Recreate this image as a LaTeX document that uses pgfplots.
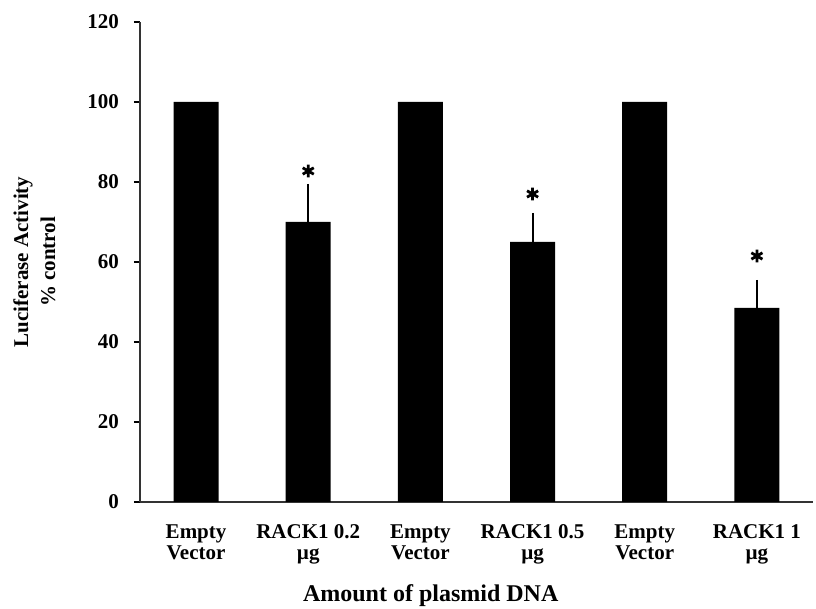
\documentclass[border=0pt]{standalone}
\usepackage{fontspec}
\setmainfont{Liberation Serif}
\usepackage{pgfplots}
\pgfplotsset{compat=1.18}
\begin{document}
\begin{tikzpicture}
\useasboundingbox (0,0) rectangle (408pt,304.5pt);
\begin{axis}[
  at={(70pt,53.5pt)}, anchor=south west,
  scale only axis, width=336.5pt, height=240pt,
  axis lines=left, axis line style={-, line width=0.6pt, black!80},
  xmin=-0.5, xmax=5.5, ymin=0, ymax=120,
  ytick={0,20,...,120},
  xtick={0,...,5},
  xticklabels={{Empty\\Vector},{RACK1 0.2\\µg},{Empty\\Vector},{RACK1 0.5\\µg},{Empty\\Vector},{RACK1 1\\µg}},
  x tick style={draw=none},
  extra x ticks={0.5,1.5,2.5,3.5,4.5},
  extra x tick labels={},
  extra x tick style={tick style={draw=black, line width=0.6pt}, major tick length=4pt, tick align=outside},
  y tick style={line width=0.6pt, black},
  tick align=outside, major tick length=3pt,
  /pgf/number format/assume math mode=true,
  yticklabel style={font=\fontsize{10.5}{12}\selectfont\bfseries, xshift=-4pt},
  xticklabel style={align=center, font=\fontsize{10.5}{10.8}\selectfont\bfseries, inner sep=0pt, yshift=-8pt},
  xlabel={Amount of plasmid DNA},
  xlabel style={at={(axis description cs:0.432,0)}, anchor=north, inner sep=0pt, yshift=-41pt, font=\fontsize{12}{14}\selectfont\bfseries},
  ylabel={Luciferase Activity\\\% control},
  ylabel style={at={(axis description cs:-0.125,0.5)}, anchor=south, inner sep=0pt, align=center, font=\fontsize{10.5}{13.5}\selectfont\bfseries},
]
\addplot[ybar, bar width=22.5pt, fill=black, draw=none]
  coordinates {(0,100) (1,70) (2,100) (3,65) (4,100) (5,48.5)};
\addplot[draw=none, mark=none,
  error bars/.cd, y dir=plus, y explicit,
  error bar style={line width=1pt, black},
  error mark options={black, line width=1pt, mark size=2.5pt}]
  coordinates {
    (1,70) +- (0,8.25)
    (3,65) +- (0,6)
    (5,48.5) +- (0,5.75)
  };
\addplot[only marks, mark=asterisk, mark size=3.2pt, line width=1.4pt, black]
  coordinates {(1,82.75) (3,77) (5,61.5)};
\end{axis}
\end{tikzpicture}
\end{document}
